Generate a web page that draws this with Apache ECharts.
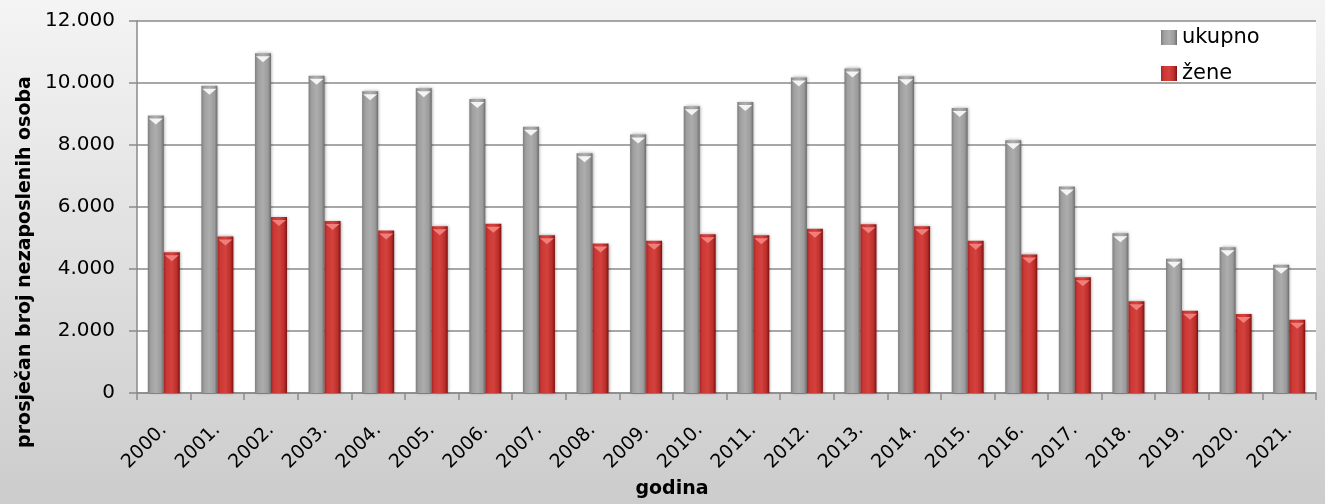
<!DOCTYPE html>
<html>
<head>
<meta charset="utf-8">
<script src="https://cdn.jsdelivr.net/npm/echarts@6/dist/echarts.min.js"></script>
<style>
html,body{margin:0;padding:0;background:#fff;}
#chart{width:1325px;height:504px;}
</style>
</head>
<body>
<div id="chart"></div>
<script>
const categories = ['2000.','2001.','2002.','2003.','2004.','2005.','2006.','2007.','2008.','2009.','2010.','2011.','2012.','2013.','2014.','2015.','2016.','2017.','2018.','2019.','2020.','2021.'];
const ukupno = [8950, 9910, 10960, 10230, 9730, 9830, 9480, 8590, 7730, 8340, 9250, 9390, 10180, 10470, 10220, 9190, 8150, 6660, 5150, 4330, 4700, 4140];
const zene = [4540, 5050, 5680, 5550, 5240, 5380, 5460, 5090, 4820, 4910, 5120, 5090, 5300, 5440, 5380, 4910, 4470, 3730, 2960, 2650, 2550, 2360];
const yTicks = {min: 0, max: 12000, interval: 2000};
const seriesNames = ['ukupno', 'žene'];
const axisNames = {y: 'prosječan broj nezaposlenih osoba', x: 'godina'};

const FONT = 'DejaVu Sans';
function hgrad(stops){
  return {type:'linear', x:0, y:0, x2:1, y2:0, colorStops: stops.map(s=>({offset:s[0], color:s[1]}))};
}
const grayFill = hgrad([[0,'#7e7e7e'],[0.18,'#9f9f9f'],[0.5,'#adadad'],[0.82,'#9b9b9b'],[1,'#6c6c6c']]);
const redFill = hgrad([[0,'#a42626'],[0.18,'#cc3834'],[0.5,'#d4423e'],[0.82,'#bb2e2a'],[1,'#7a1212']]);

const chart = echarts.init(document.getElementById('chart'));
chart.setOption({
  animation: false,
  backgroundColor: {type:'linear', x:0, y:0, x2:0, y2:1, colorStops:[{offset:0,color:'#f4f4f4'},{offset:1,color:'#cccccc'}]},
  textStyle: {fontFamily: FONT},
  grid: {left:137, right:9, top:21, bottom:111, show:true, backgroundColor:'#ffffff', borderWidth:0, containLabel:false},
  legend: {
    orient:'vertical', left:1156, top:22, itemWidth:16, itemHeight:15, itemGap:15,
    data: seriesNames, icon:'rect',
    textStyle:{fontFamily:FONT, fontSize:21, color:'#000'}
  },
  xAxis: {
    type:'category', data:categories,
    axisLine:{show:true, lineStyle:{color:'#8a8a8a', width:1.5}},
    axisTick:{show:true, length:7, lineStyle:{color:'#8a8a8a', width:1.5}},
    axisLabel:{interval:0, rotate:45, margin:34, fontSize:19, color:'#000', fontFamily:FONT},
    name: axisNames.x, nameLocation:'middle', nameGap:84,
    nameTextStyle:{fontFamily:FONT, fontSize:19, fontWeight:'bold', color:'#000', padding:[0,109,0,0]}
  },
  yAxis: {
    type:'value', min:yTicks.min, max:yTicks.max, interval:yTicks.interval,
    axisLine:{show:true, lineStyle:{color:'#8a8a8a', width:1.5}},
    axisTick:{show:true, length:8, lineStyle:{color:'#8a8a8a', width:1.5}},
    splitLine:{show:true, lineStyle:{color:'#8a8a8a', width:1.5}},
    axisLabel:{margin:22, fontSize:20, color:'#000', fontFamily:FONT,
      formatter: v => String(v).replace(/\B(?=(\d{3})+(?!\d))/g, '.')},
    name: axisNames.y, nameLocation:'middle', nameGap:98,
    nameTextStyle:{fontFamily:FONT, fontSize:19, fontWeight:'bold', color:'#000', padding:[0,110,0,0]}
  },
  series: [
    {name:seriesNames[0], type:'bar', data:ukupno, barWidth:16, barGap:'0%',
      itemStyle:{color:grayFill, shadowColor:'rgba(0,0,0,0.35)', shadowBlur:3, shadowOffsetX:1, shadowOffsetY:0}},
    {name:seriesNames[1], type:'bar', data:zene, barWidth:16, barGap:'0%',
      itemStyle:{color:redFill, shadowColor:'rgba(0,0,0,0.35)', shadowBlur:3, shadowOffsetX:1, shadowOffsetY:0}},
    {name:'capU', type:'pictorialBar', data:ukupno, barWidth:16, barGap:'0%', silent:true, z:5,
      symbol:'triangle', symbolRotate:180, symbolSize:[14,6], symbolPosition:'end', symbolOffset:[0,3],
      itemStyle:{color:'#f4f4f4'}},
    {name:'capZ', type:'pictorialBar', data:zene, barWidth:16, barGap:'0%', silent:true, z:5,
      symbol:'triangle', symbolRotate:180, symbolSize:[14,6], symbolPosition:'end', symbolOffset:[0,3],
      itemStyle:{color:'#f07e7a'}}
  ]
});
</script>
</body>
</html>
